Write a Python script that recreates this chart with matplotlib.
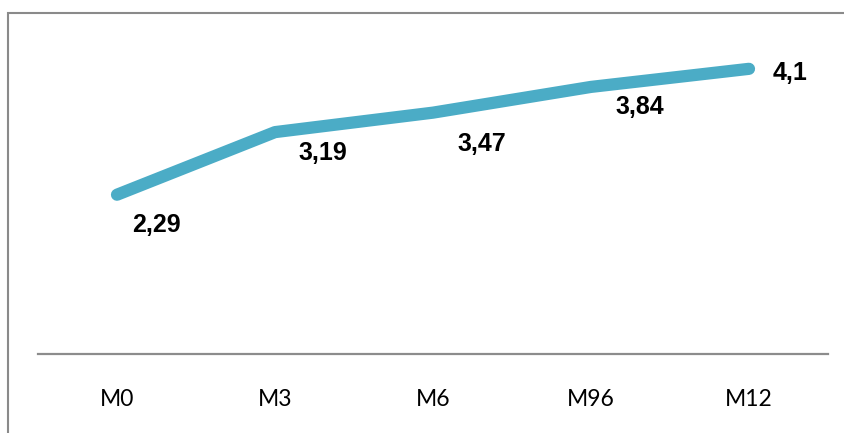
import matplotlib
matplotlib.use("Agg")
import matplotlib.pyplot as plt
from matplotlib.patches import Rectangle

# data
months = ["M0", "M3", "M6", "M96", "M12"]
scores = [2.29, 3.19, 3.47, 3.84, 4.1]
score_labels = ["2,29", "3,19", "3,47", "3,84", "4,1"]

# label offsets in pixels (right, down)
label_offsets = [(39, 30), (48, 21), (49, 31), (49, 20), (41, 4)]

W, H = 844, 433
fig = plt.figure(figsize=(W / 100, H / 100), dpi=100)
ax = fig.add_axes([38 / W, 79 / H, 790 / W, (354 - 41) / H])

x = list(range(len(months)))
ax.plot(x, scores, color="#4BACC6", lw=8.8, solid_capstyle="round",
        solid_joinstyle="round")

for i, (lab, (dx, dy)) in enumerate(zip(score_labels, label_offsets)):
    ax.annotate(lab, (x[i], scores[i]), xytext=(dx, -dy),
                textcoords="offset pixels", ha="center", va="center",
                fontsize=18, fontweight="bold", family="Liberation Sans",
                color="black")

ax.set_xlim(-0.5, len(months) - 0.5)
ax.set_ylim(0, 4.5)
ax.set_xticks(x)
ax.set_xticklabels(months, fontsize=16.5, family="Lato")
ax.tick_params(axis="x", length=0, pad=25)
ax.set_yticks([])
for s in ["top", "right", "left"]:
    ax.spines[s].set_visible(False)
ax.spines["bottom"].set_color("#8c8c8c")
ax.spines["bottom"].set_linewidth(1.6)

# outer chart border (cropped at right and bottom)
fig.patches.append(Rectangle((8 / W, -0.1), 1.2, 1 - 13 / H + 0.1,
                             transform=fig.transFigure, fill=False,
                             edgecolor="#8a8a8a", lw=1.5))

fig.savefig("out.png", dpi=100)
